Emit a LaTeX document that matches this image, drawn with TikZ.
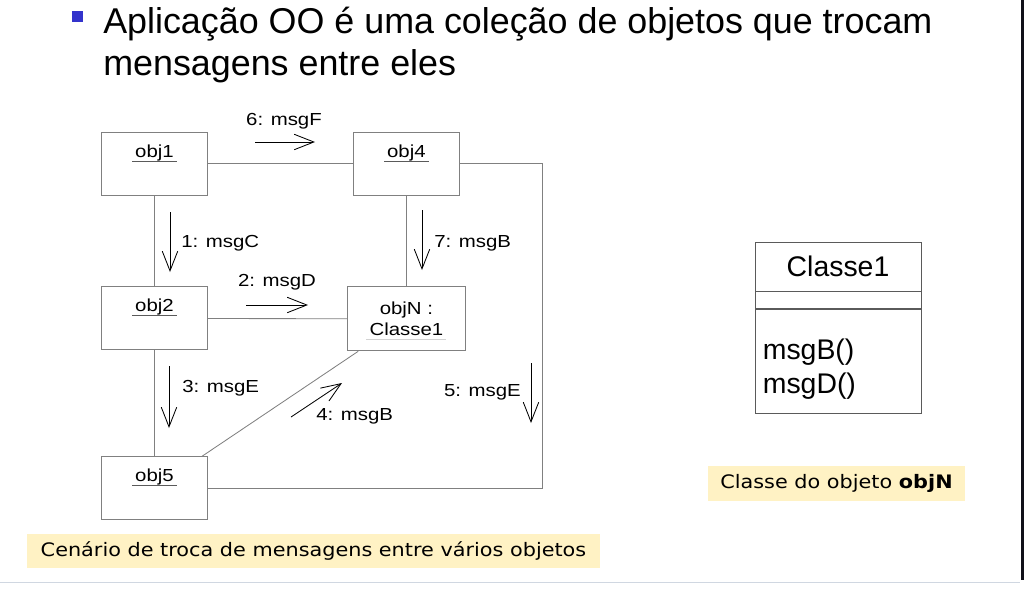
\documentclass[tikz,border=0pt]{standalone}
\usepackage{fontspec}
\setmainfont{Liberation Sans}
\newfontfamily\capfont[FakeStretch=1.12]{DejaVu Sans}
\newfontfamily\dgmfont[FakeStretch=1.17]{Liberation Sans}
\usepackage{tikz}
\usetikzlibrary{arrows.meta, positioning, calc}
\usepackage{xcolor}
\definecolor{boxgray}{RGB}{128,128,128}
\definecolor{clsgray}{RGB}{90,90,90}
\definecolor{capyellow}{RGB}{255,242,196}
\definecolor{bulletblue}{RGB}{51,51,204}
\definecolor{rulegray}{RGB}{208,215,225}
\definecolor{edgedark}{RGB}{16,16,24}
\newcommand{\ttlsize}{\fontsize{25.5}{30}\selectfont}
\newcommand{\lblsize}{\dgmfont\fontsize{12.4}{14.9}\selectfont}
\newcommand{\clssize}{\fontsize{20.2}{24.8}\selectfont}
\newcommand{\capsize}{\fontsize{13.2}{16}\selectfont}

\begin{document}
\begin{tikzpicture}[
  x=0.025cm, y=-0.025cm,
  objbox/.style={rectangle, draw=boxgray, line width=0.6pt, minimum width=2.65cm, minimum height=1.575cm, inner sep=0pt, font=\lblsize, align=center},
  objname/.style={font=\lblsize, anchor=base, inner xsep=2pt, inner ysep=0pt},
  uline/.style={draw=boxgray!70!black, line width=0.6pt},
  link/.style={draw=boxgray, line width=0.6pt},
  msg/.style={-{Straight Barb[length=14pt, width=11pt]}, line width=0.6pt},
  msglbl/.style={font=\lblsize, inner sep=0pt},
  clsbox/.style={rectangle, draw=clsgray, line width=0.6pt, minimum width=4.15cm, inner sep=0pt},
  capbox/.style={rectangle, fill=capyellow, font=\capfont\capsize, inner sep=0pt},
  ttl/.style={anchor=base west, inner sep=0pt, font=\ttlsize},
]
  \useasboundingbox (0,0) rectangle (1025,593);

  % title
  \node[fill=bulletblue, minimum size=0.275cm, inner sep=0pt] (blt) at (77.5,16.5) {};
  \node[ttl] (ttl1) at (103,33) {Aplicação OO é uma coleção de objetos que trocam};
  \node[ttl] (ttl2) at (103,75) {mensagens entre eles};

  % objects
  \node[objbox] (obj1) at (154.5,163.5) {};
  \node[objbox, right=3.625cm of obj1] (obj4) {};
  \node[objbox, below=2.275cm of obj1] (obj2) {};
  \node[objbox, minimum width=2.925cm, minimum height=1.6cm, below=2.275cm of obj4] (objN) {objN :\\Classe1};
  \node[objbox, below=2.65cm of obj2] (obj5) {};

  \node[objname] (n1) at ([yshift=-18.1pt]obj1.north) {obj1};
  \node[objname] (n4) at ([yshift=-18.1pt]obj4.north) {obj4};
  \node[objname] (n2) at ([yshift=-18.1pt]obj2.north) {obj2};
  \node[objname] (n5) at ([yshift=-18.1pt]obj5.north) {obj5};
  \draw[uline] ([yshift=-2.8pt]n1.base west) -- ([yshift=-2.8pt]n1.base east);
  \draw[uline] ([yshift=-2.8pt]n4.base west) -- ([yshift=-2.8pt]n4.base east);
  \draw[uline] ([yshift=-2.8pt]n2.base west) -- ([yshift=-2.8pt]n2.base east);
  \draw[uline] ([yshift=-2.8pt]n5.base west) -- ([yshift=-2.8pt]n5.base east);
  \draw[uline, draw=gray!35] ([shift={(-28.4pt,-14.9pt)}]objN.center) -- ([shift={(28.4pt,-14.9pt)}]objN.center);

  % links
  \coordinate[right=2.075cm of obj4.east] (rt);
  \draw[link] (obj1) -- (obj4);
  \draw[link] (obj1) -- (obj2);
  \draw[link] (obj4.south) -- (obj4.south |- objN.north);
  \draw[link] (obj2) -- (objN);
  \draw[link] (obj2) -- (obj5);
  \draw[link] (obj5) -- (objN);
  \draw[link] (obj4.east) -- (rt) |- (obj5.east);

  % messages
  \coordinate (m6a) at (255,142); \coordinate (m6b) at (315,142);
  \coordinate (m1a) at (170,212); \coordinate (m1b) at (170,272);
  \coordinate (m7a) at (422,210); \coordinate (m7b) at (422,270);
  \coordinate (m2a) at (246,305); \coordinate (m2b) at (308,305);
  \coordinate (m3a) at (169,366); \coordinate (m3b) at (169,428);
  \coordinate (m4a) at (291,417); \coordinate (m4b) at (342,383);
  \coordinate (m5a) at (531,363); \coordinate (m5b) at (531,423);
  \draw[msg] (m6a) -- (m6b);
  \draw[msg] (m1a) -- (m1b);
  \draw[msg] (m7a) -- (m7b);
  \draw[msg] (m2a) -- (m2b);
  \draw[msg] (m3a) -- (m3b);
  \draw[msg] (m4a) -- (m4b);
  \draw[msg] (m5a) -- (m5b);
  \node[msglbl] (l6) at (284,121) {6: msgF};
  \node[msglbl, anchor=west] (l1) at (181,243) {1: msgC};
  \node[msglbl, anchor=west] (l7) at (434,243) {7: msgB};
  \node[msglbl] (l2) at (277,282) {2: msgD};
  \node[msglbl, anchor=west] (l3) at (182,388) {3: msgE};
  \node[msglbl, anchor=west] (l4) at (316,416) {4: msgB};
  \node[msglbl, anchor=east] (l5) at (521,392) {5: msgE};

  % class
  \node[clsbox, minimum height=1.225cm, font=\clssize] (clsname) at (838,266.5) {Classe1};
  \node[clsbox, minimum height=0.425cm, below=0pt of clsname] (clsattr) {};
  \node[clsbox, minimum height=2.6cm, below=0pt of clsattr] (clsops) {};
  \node[font=\clssize, align=left, anchor=west, inner sep=0pt] (clsmeth) at ([xshift=5.7pt, yshift=-5.3pt]clsops.west) {msgB()\\msgD()};

  % captions
  \node[capbox, minimum width=14.325cm, minimum height=0.85cm] (cap1) at (313.5,550.5) {Cenário de troca de mensagens entre vários objetos};
  \node[capbox, minimum width=6.425cm, minimum height=0.875cm] (cap2) at (836.5,483.5) {Classe do objeto \textbf{objN}};

  % slide edges
  \draw[draw=rulegray, line width=0.7pt] (0,582) -- (1020,582);
  \draw[draw=edgedark, line width=1.8pt] (1022.5,0) -- (1022.5,580);
\end{tikzpicture}
\end{document}
